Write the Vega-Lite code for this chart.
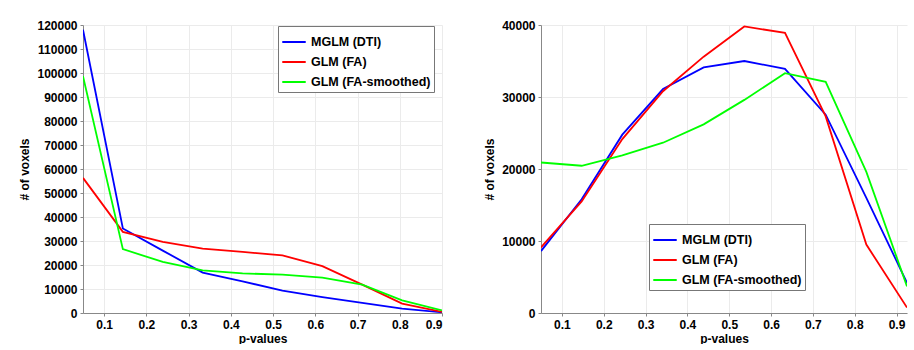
{
  "$schema": "https://vega.github.io/schema/vega-lite/v6.json",
  "padding": {"left": 18, "top": 19, "right": 5, "bottom": 0},
  "background": "white",
  "spacing": 40,
  "config": {
    "font": "Liberation Sans",
    "view": {"stroke": null},
    "axis": {
      "labelFont": "Liberation Sans", "labelFontWeight": "bold", "labelFontSize": 12, "labelColor": "#000",
      "titleFont": "Liberation Sans", "titleFontWeight": "bold", "titleFontSize": 12, "titleColor": "#000",
      "gridColor": "#ebebeb", "gridWidth": 1, "domainColor": "#888", "tickColor": "#888", "tickSize": 3,
      "labelPadding": 3
    },
    "legend": {
      "labelFont": "Liberation Sans", "labelFontWeight": "bold", "labelFontSize": 12.5, "labelColor": "#000",
      "symbolType": "stroke", "symbolSize": 550, "symbolStrokeWidth": 2,
      "strokeColor": "#777", "fillColor": "white", "padding": 3, "rowPadding": -6,
      "labelOffset": 4
    }
  },
  "datasets": {
    "left": [
      {"p": 0.05, "series": "MGLM (DTI)", "count": 118000},
      {"p": 0.1444, "series": "MGLM (DTI)", "count": 35200},
      {"p": 0.2389, "series": "MGLM (DTI)", "count": 26000},
      {"p": 0.3333, "series": "MGLM (DTI)", "count": 16850},
      {"p": 0.4278, "series": "MGLM (DTI)", "count": 13200},
      {"p": 0.5222, "series": "MGLM (DTI)", "count": 9300},
      {"p": 0.6167, "series": "MGLM (DTI)", "count": 6600},
      {"p": 0.7111, "series": "MGLM (DTI)", "count": 4200},
      {"p": 0.8056, "series": "MGLM (DTI)", "count": 1800},
      {"p": 0.9, "series": "MGLM (DTI)", "count": 300},
      {"p": 0.05, "series": "GLM (FA)", "count": 56300},
      {"p": 0.1444, "series": "GLM (FA)", "count": 33800},
      {"p": 0.2389, "series": "GLM (FA)", "count": 29600},
      {"p": 0.3333, "series": "GLM (FA)", "count": 26850},
      {"p": 0.4278, "series": "GLM (FA)", "count": 25450},
      {"p": 0.5222, "series": "GLM (FA)", "count": 24000},
      {"p": 0.6167, "series": "GLM (FA)", "count": 19500},
      {"p": 0.7111, "series": "GLM (FA)", "count": 11800},
      {"p": 0.8056, "series": "GLM (FA)", "count": 3900},
      {"p": 0.9, "series": "GLM (FA)", "count": 500},
      {"p": 0.05, "series": "GLM (FA-smoothed)", "count": 98700},
      {"p": 0.1444, "series": "GLM (FA-smoothed)", "count": 26600},
      {"p": 0.2389, "series": "GLM (FA-smoothed)", "count": 21300},
      {"p": 0.3333, "series": "GLM (FA-smoothed)", "count": 17800},
      {"p": 0.4278, "series": "GLM (FA-smoothed)", "count": 16500},
      {"p": 0.5222, "series": "GLM (FA-smoothed)", "count": 16000},
      {"p": 0.6167, "series": "GLM (FA-smoothed)", "count": 14700},
      {"p": 0.7111, "series": "GLM (FA-smoothed)", "count": 11800},
      {"p": 0.8056, "series": "GLM (FA-smoothed)", "count": 5300},
      {"p": 0.9, "series": "GLM (FA-smoothed)", "count": 1100}
    ],
    "right": [
      {"p": 0.05, "series": "MGLM (DTI)", "count": 8600},
      {"p": 0.1472, "series": "MGLM (DTI)", "count": 15800},
      {"p": 0.2444, "series": "MGLM (DTI)", "count": 24770},
      {"p": 0.3417, "series": "MGLM (DTI)", "count": 31100},
      {"p": 0.4389, "series": "MGLM (DTI)", "count": 34100},
      {"p": 0.5361, "series": "MGLM (DTI)", "count": 35000},
      {"p": 0.6333, "series": "MGLM (DTI)", "count": 33900},
      {"p": 0.7306, "series": "MGLM (DTI)", "count": 27550},
      {"p": 0.8278, "series": "MGLM (DTI)", "count": 16000},
      {"p": 0.925, "series": "MGLM (DTI)", "count": 4200},
      {"p": 0.05, "series": "GLM (FA)", "count": 9100},
      {"p": 0.1472, "series": "GLM (FA)", "count": 15500},
      {"p": 0.2444, "series": "GLM (FA)", "count": 24160},
      {"p": 0.3417, "series": "GLM (FA)", "count": 30800},
      {"p": 0.4389, "series": "GLM (FA)", "count": 35600},
      {"p": 0.5361, "series": "GLM (FA)", "count": 39800},
      {"p": 0.6333, "series": "GLM (FA)", "count": 38900},
      {"p": 0.7306, "series": "GLM (FA)", "count": 27300},
      {"p": 0.8278, "series": "GLM (FA)", "count": 9500},
      {"p": 0.925, "series": "GLM (FA)", "count": 750},
      {"p": 0.05, "series": "GLM (FA-smoothed)", "count": 20900},
      {"p": 0.1472, "series": "GLM (FA-smoothed)", "count": 20450},
      {"p": 0.2444, "series": "GLM (FA-smoothed)", "count": 21900},
      {"p": 0.3417, "series": "GLM (FA-smoothed)", "count": 23650},
      {"p": 0.4389, "series": "GLM (FA-smoothed)", "count": 26200},
      {"p": 0.5361, "series": "GLM (FA-smoothed)", "count": 29600},
      {"p": 0.6333, "series": "GLM (FA-smoothed)", "count": 33300},
      {"p": 0.7306, "series": "GLM (FA-smoothed)", "count": 32100},
      {"p": 0.8278, "series": "GLM (FA-smoothed)", "count": 19600},
      {"p": 0.925, "series": "GLM (FA-smoothed)", "count": 3700}
    ]
  },
  "resolve": {"scale": {"color": "independent"}, "legend": {"color": "independent"}},
  "hconcat": [
    {
      "width": 359,
      "height": 288,
      "data": {"name": "left"},
      "mark": {"type": "line", "strokeWidth": 1.8, "clip": true},
      "encoding": {
        "x": {"field": "p", "type": "quantitative", "title": "p-values",
              "scale": {"domain": [0.05, 0.9], "nice": false, "zero": false},
              "axis": {"values": [0.1, 0.2, 0.3, 0.4, 0.5, 0.6, 0.7, 0.8, 0.9], "format": ".1f", "titlePadding": 3}},
        "y": {"field": "count", "type": "quantitative", "title": "# of voxels",
              "scale": {"domain": [0, 120000], "nice": false},
              "axis": {"values": [0, 10000, 20000, 30000, 40000, 50000, 60000, 70000, 80000, 90000, 100000, 110000, 120000], "format": "d", "titlePadding": 5}},
        "color": {"field": "series", "type": "nominal", "sort": null,
                  "scale": {"domain": ["MGLM (DTI)", "GLM (FA)", "GLM (FA-smoothed)"], "range": ["#0000ff", "#ff0000", "#00ff00"]},
                  "legend": {"title": null, "orient": "none", "legendX": 195, "legendY": 1}}
      }
    },
    {
      "width": 366,
      "height": 288,
      "data": {"name": "right"},
      "mark": {"type": "line", "strokeWidth": 1.8, "clip": true},
      "encoding": {
        "x": {"field": "p", "type": "quantitative", "title": "p-values",
              "scale": {"domain": [0.05, 0.925], "nice": false, "zero": false},
              "axis": {"values": [0.1, 0.2, 0.3, 0.4, 0.5, 0.6, 0.7, 0.8, 0.9], "format": ".1f", "titlePadding": 3}},
        "y": {"field": "count", "type": "quantitative", "title": "# of voxels",
              "scale": {"domain": [0, 40000], "nice": false},
              "axis": {"values": [0, 10000, 20000, 30000, 40000], "format": "d", "titlePadding": 5}},
        "color": {"field": "series", "type": "nominal", "sort": null,
                  "scale": {"domain": ["MGLM (DTI)", "GLM (FA)", "GLM (FA-smoothed)"], "range": ["#0000ff", "#ff0000", "#00ff00"]},
                  "legend": {"title": null, "orient": "none", "legendX": 108, "legendY": 199}}
      }
    }
  ]
}
